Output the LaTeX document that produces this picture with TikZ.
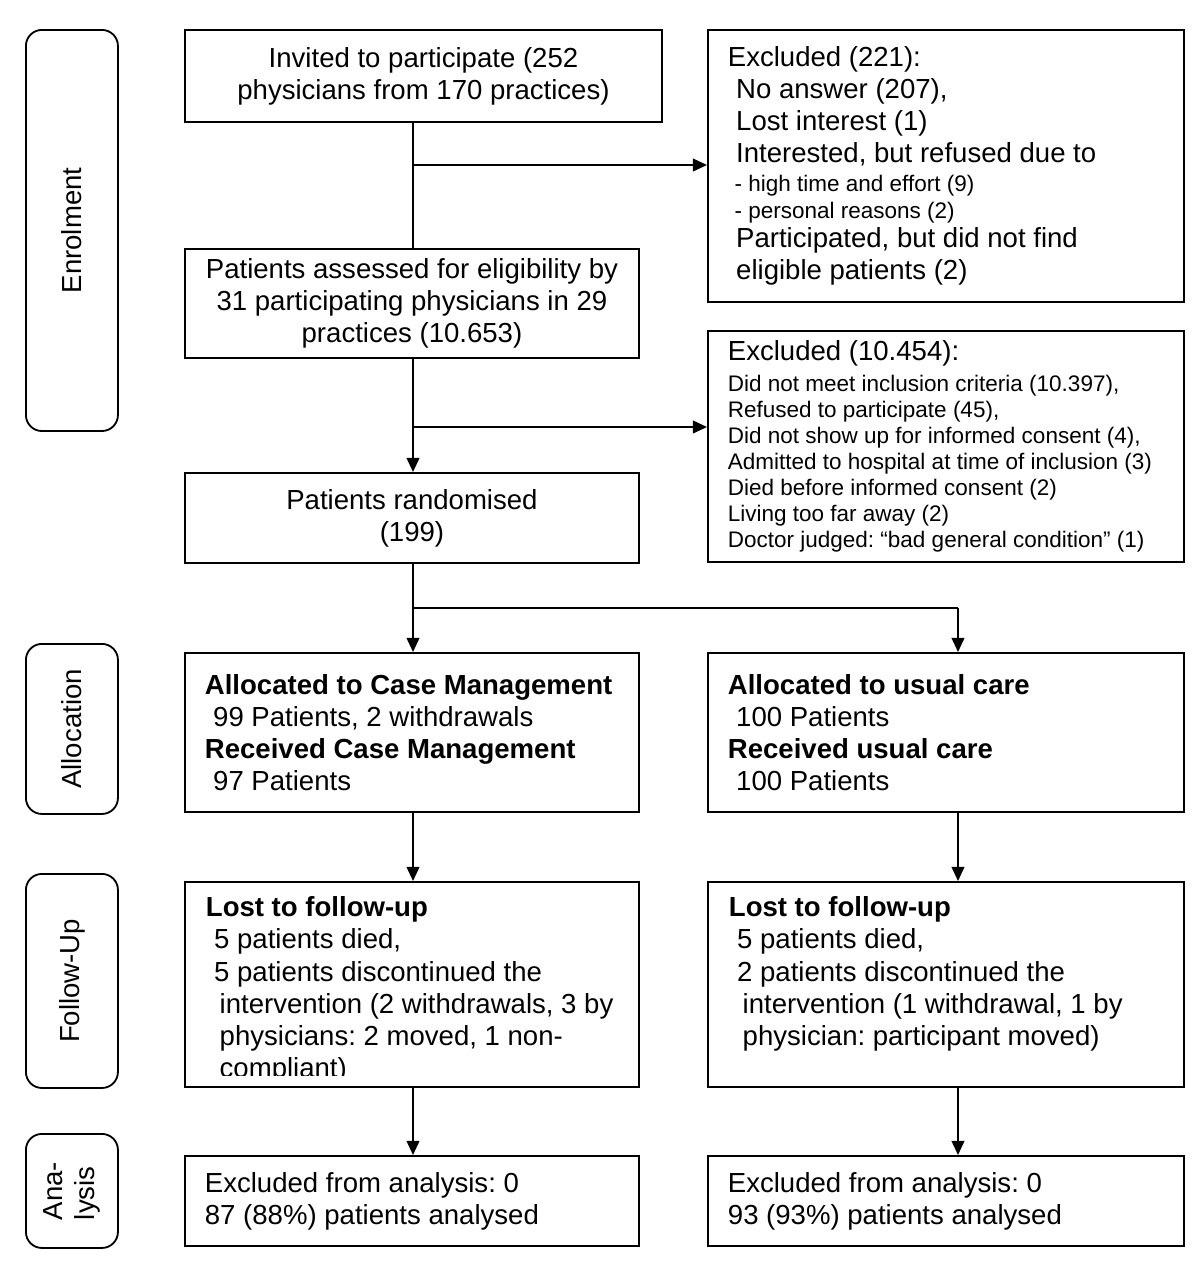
\documentclass[tikz,border=0pt]{standalone}
\usepackage{fontspec}
\usepackage{graphicx}
\setmainfont{Liberation Sans}
\usetikzlibrary{arrows.meta}
\frenchspacing
\newcommand{\bigf}{\fontsize{19.6}{22.8}\selectfont}
\newcommand{\smallf}{\fontsize{16}{18.5}\selectfont}
\newcommand{\pad}{\hspace*{.3em}}
\newcommand{\padd}{\hspace*{.5em}}

\begin{document}
\begin{tikzpicture}[
            x=0.025cm, y=-0.025cm,
            line width=1.3pt,
            box/.style={draw, rectangle, anchor=north west, inner xsep=0.5cm, inner ysep=0pt, font=\bigf},
            lbox/.style={box, minimum width=11.35cm, text width=10.35cm, align=flush left},
            rbox/.style={box, minimum width=11.9cm, text width=10.9cm, align=flush left},
            stage/.style={draw, rounded corners=0.4cm, anchor=north west, minimum width=2.3cm, inner sep=0pt, font=\bigf},
            futext/.style={anchor=north west, inner sep=0pt, align=left, font=\bigf},
            arr/.style={-{Triangle[length=10pt,width=9pt]}}
        ]
        \useasboundingbox (0,0) rectangle (1200,1271);

        \node[stage, minimum height=10.025cm] (enr) at (25,29) {\rotatebox{90}{Enrolment}};
        \node[stage, minimum height=4.25cm] (alc) at (25,643) {\rotatebox{90}{Allocation}};
        \node[stage, minimum height=5.35cm] (fol) at (25,873) {\rotatebox{90}{Follow-Up}};
        \node[stage, minimum height=2.85cm] (ana) at (25,1133) {\rotatebox{90}{\begin{tabular}{@{}l@{}}Ana-\\lysis\end{tabular}}};

        \node[box, minimum width=11.925cm, minimum height=2.3cm, align=center] (inv) at (184,29)
            {Invited to participate (252\\physicians from 170 practices)};
        \node[box, minimum width=11.35cm, minimum height=2.725cm, align=center] (ass) at (184,248)
            {Patients assessed for eligibility by\\31 participating physicians in 29\\practices (10.653)};
        \node[box, minimum width=11.35cm, minimum height=2.25cm, align=center] (rnd) at (184,472)
            {Patients randomised\\(199)};

        \node[rbox, minimum height=6.8cm] (ex1) at (707,29) {
            Excluded (221):\\
            \pad No answer (207),\\
            \pad Lost interest (1)\\
            \pad Interested, but refused due to\\[-2pt]
            {\smallf\pad - high time and effort (9)}\\[-4pt]
            {\smallf\pad - personal reasons (2)}\\[-2pt]
            \pad Participated, but did not find\\
            \pad eligible patients (2)};
        \node[rbox, minimum height=5.775cm, font=\smallf] (ex2) at (707,330) {
            {\bigf Excluded (10.454):}\\[3pt]
            Did not meet inclusion criteria (10.397),\\
            Refused to participate (45),\\
            Did not show up for informed consent (4),\\
            Admitted to hospital at time of inclusion (3)\\
            Died before informed consent (2)\\
            Living too far away (2)\\
            Doctor judged: ``bad general condition'' (1)};

        \node[lbox, minimum height=3.975cm] (alcm) at (184,652) {
            \textbf{Allocated to Case Management}\\
            \pad 99 Patients, 2 withdrawals\\
            \textbf{Received Case Management}\\
            \pad 97 Patients};
        \node[rbox, minimum height=3.975cm] (aluc) at (707,652) {
            \textbf{Allocated to usual care}\\
            \pad 100 Patients\\
            \textbf{Received usual care}\\
            \pad 100 Patients};

        \node[lbox, minimum height=5.125cm] (fucm) at (184,881) {};
        \node[rbox, minimum height=5.125cm] (fuuc) at (707,881) {};
        \begin{scope}
            \clip (fucm.north west) rectangle ([yshift=0.3cm]fucm.south east);
            \node[futext] (fucmtext) at ([shift={(21,15)}]fucm.north west) {
                \textbf{Lost to follow-up}\\
                \pad 5 patients died,\\
                \pad 5 patients discontinued the\\
                \padd intervention (2 withdrawals, 3 by\\
                \padd physicians: 2 moved, 1 non-\\
                \padd compliant)};
        \end{scope}
        \node[futext] (fuuctext) at ([shift={(21,15)}]fuuc.north west) {
            \textbf{Lost to follow-up}\\
            \pad 5 patients died,\\
            \pad 2 patients discontinued the\\
            \padd intervention (1 withdrawal, 1 by\\
            \padd physician: participant moved)};

        \node[lbox, minimum height=2.25cm] (ancm) at (184,1155) {
            Excluded from analysis: 0\\
            87 (88\%) patients analysed};
        \node[rbox, minimum height=2.25cm] (anuc) at (707,1155) {
            Excluded from analysis: 0\\
            93 (93\%) patients analysed};

        \coordinate (j1) at (413,165);
        \coordinate (j2) at (413,427);
        \coordinate (lx) at (413,608);
        \coordinate (rx) at (958,608);

        \draw (lx |- inv.south) -- (lx |- ass.north);
        \draw[arr] (j1) -- (j1 -| ex1.west);
        \draw[arr] (lx |- ass.south) -- (lx |- rnd.north);
        \draw[arr] (j2) -- (j2 -| ex2.west);
        \draw (lx |- rnd.south) -- (lx) -- (rx);
        \draw[arr] (lx) -- (lx |- alcm.north);
        \draw[arr] (rx) -- (rx |- aluc.north);
        \draw[arr] (lx |- alcm.south) -- (lx |- fucm.north);
        \draw[arr] (rx |- aluc.south) -- (rx |- fuuc.north);
        \draw[arr] (lx |- fucm.south) -- (lx |- ancm.north);
        \draw[arr] (rx |- fuuc.south) -- (rx |- anuc.north);
    \end{tikzpicture}
\end{document}
